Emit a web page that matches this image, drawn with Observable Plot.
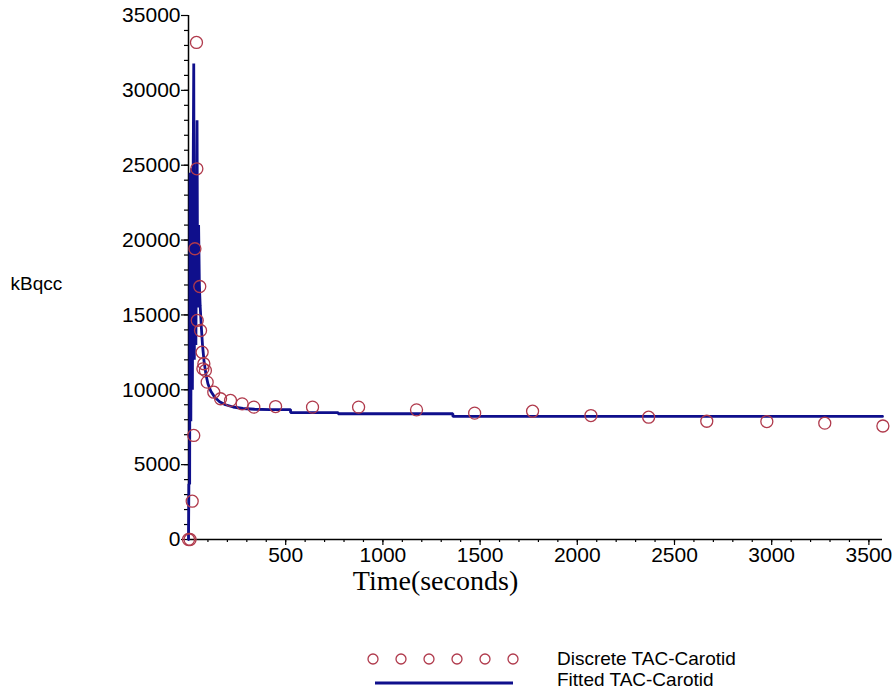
<!DOCTYPE html>
<html>
<head>
<meta charset="utf-8">
<script src="https://cdn.jsdelivr.net/npm/d3@7"></script>
<script src="https://cdn.jsdelivr.net/npm/@observablehq/plot@0.6"></script>
<style>
  html, body { margin: 0; padding: 0; background: #fff; }
  #wrap { position: relative; width: 895px; height: 695px; }
  #legend { position: absolute; left: 0; top: 620px; }
</style>
</head>
<body>
<div id="wrap">
  <div id="chart"></div>
  <div id="legend"></div>
</div>
<script>
// Discrete TAC-Carotid samples (time in seconds, kBq/cc)
const discT = [0, 8, 19, 27, 33, 41, 43, 45, 58, 62, 70, 74, 79, 87, 96, 130, 165, 216, 276, 336, 448, 638, 875, 1173, 1472, 1770, 2070, 2367, 2666, 2975, 3273, 3572];
const discV = [0, 0, 2560, 6950, 19420, 33200, 24760, 14630, 16900, 13960, 12510, 11400, 11740, 11290, 10510, 9840, 9400, 9290, 9060, 8840, 8880, 8840, 8840, 8660, 8440, 8570, 8280, 8170, 7900, 7880, 7770, 7580];

// Fitted TAC-Carotid curve
const fitT = [0, 2, 6, 8, 12, 16, 20, 24, 27, 30, 34, 38, 44, 47, 52, 56, 60, 66, 72, 80, 90, 100, 115, 135, 160, 190, 230, 280, 340, 420, 525, 525, 770, 770, 1360, 1360, 3570];
const fitV = [0, 3700, 3700, 24500, 7900, 24800, 10000, 24600, 31800, 12000, 24500, 13000, 28000, 15500, 21000, 17000, 15600, 14200, 13000, 11900, 11000, 10400, 9900, 9500, 9200, 9000, 8850, 8750, 8700, 8680, 8680, 8480, 8480, 8400, 8400, 8220, 8220];

// Axis ticks
const xTicks = [500, 1000, 1500, 2000, 2500, 3000, 3500];
const xMinor = d3.range(100, 3570, 100);
const yTicks = [0, 5000, 10000, 15000, 20000, 25000, 30000, 35000];
const yMinor = d3.range(1000, 35000, 1000);

const disc = discT.map((t, i) => ({t, v: discV[i]}));
const fit = fitT.map((t, i) => ({t, v: fitV[i]}));

const circleColor = "#b03a4c";
const lineColor = "#0f0f8c";

const chart = Plot.plot({
  width: 895,
  height: 620,
  marginLeft: 188,
  marginRight: 13,
  marginTop: 15,
  marginBottom: 81,
  style: {fontFamily: "'Liberation Sans', Arial, sans-serif", fontSize: "21px", color: "#000", background: "#fff"},
  x: {domain: [0, 3570], label: null},
  y: {domain: [0, 35000], label: null},
  marks: [
    Plot.axisY({ticks: yMinor, tickSize: 4, tickFormat: () => "", label: null, strokeWidth: 1.2}),
    Plot.axisY({ticks: yTicks, tickSize: 7, tickPadding: 1, tickFormat: d => String(d), label: null, strokeWidth: 1.2}),
    Plot.axisX({ticks: xMinor, tickSize: 3, tickFormat: () => "", label: null, strokeWidth: 1.2}),
    Plot.axisX({ticks: xTicks, tickSize: 6, tickPadding: 2, tickFormat: d => String(d), label: null, strokeWidth: 1.2}),
    Plot.ruleX([0], {y1: 0, y2: 35000, stroke: "#000", strokeWidth: 1.5}),
    Plot.ruleY([0], {x1: 0, x2: 3570, stroke: "#000", strokeWidth: 1.5}),
    Plot.line(fit, {x: "t", y: "v", stroke: lineColor, strokeWidth: 2.8, strokeLinejoin: "miter"}),
    Plot.dot(disc, {x: "t", y: "v", r: 6, stroke: circleColor, strokeWidth: 1.3, fill: "none"}),
    Plot.text(["kBqcc"], {frameAnchor: "left", dx: -178, dy: 6, textAnchor: "start", fontSize: 19}),
    Plot.text(["Time(seconds)"], {frameAnchor: "bottom", dx: -100, dy: 50, fontSize: 28, fontFamily: "'Liberation Serif', 'Times New Roman', serif"})
  ]
});
document.getElementById("chart").appendChild(chart);

// Legend
const legendItems = ["Discrete TAC-Carotid", "Fitted TAC-Carotid"];
const lg = d3.select("#legend").append("svg").attr("width", 895).attr("height", 75)
  .style("font-family", "'Liberation Sans', Arial, sans-serif");
const lx = d3.scaleLinear().domain([0, 5]).range([373, 513]);
lg.selectAll("circle").data(d3.range(6)).join("circle")
  .attr("cx", d => lx(d)).attr("cy", 39).attr("r", 5)
  .attr("fill", "none").attr("stroke", circleColor).attr("stroke-width", 1.3);
lg.append("line").attr("x1", 375).attr("x2", 513).attr("y1", 63).attr("y2", 63)
  .attr("stroke", lineColor).attr("stroke-width", 3);
lg.selectAll("text").data(legendItems).join("text")
  .attr("x", 557).attr("y", (d, i) => 45 + i * 21)
  .attr("font-size", 19).text(d => d);
</script>
</body>
</html>
